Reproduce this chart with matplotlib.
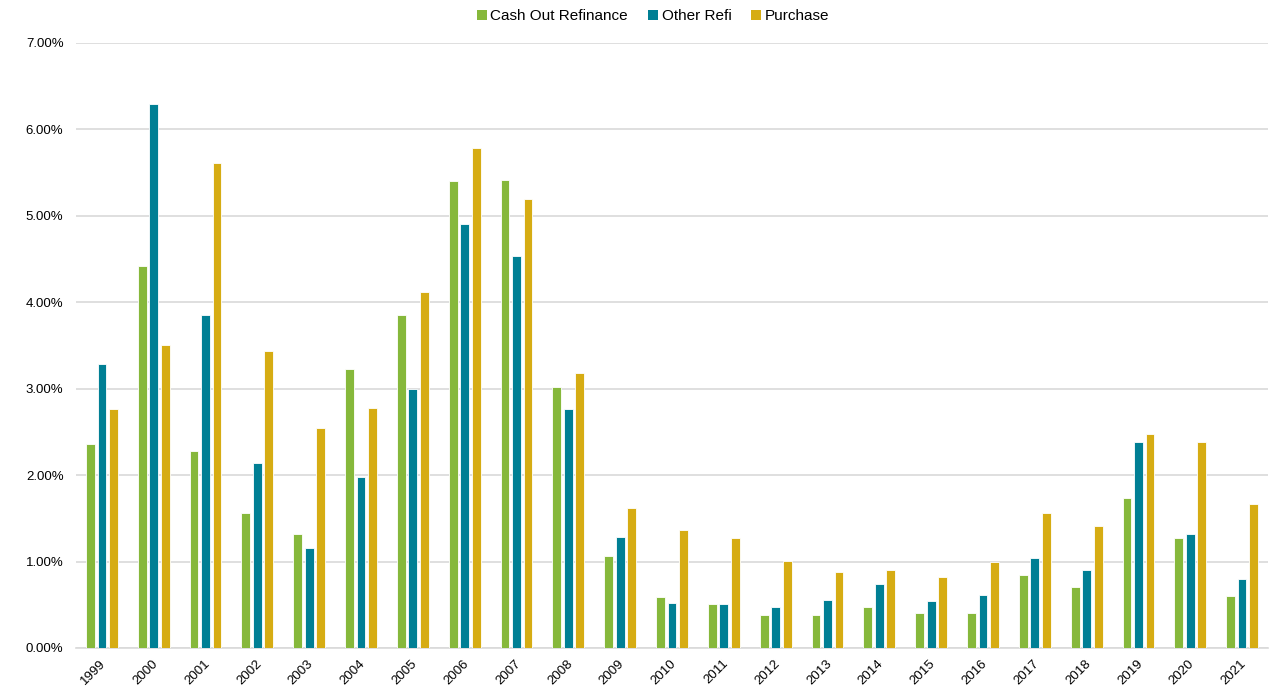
import matplotlib
matplotlib.use("Agg")
import matplotlib.pyplot as plt
import matplotlib.transforms as mtransforms
import numpy as np
from matplotlib.ticker import PercentFormatter, MultipleLocator
from matplotlib.patches import Patch

years = [str(y) for y in range(1999, 2022)]

cash_out_refinance = [2.36, 4.42, 2.28, 1.56, 1.32, 3.23, 3.85, 5.40, 5.42, 3.02,
                      1.06, 0.59, 0.51, 0.385, 0.385, 0.48, 0.41, 0.41, 0.84, 0.71,
                      1.73, 1.27, 0.60]
other_refi = [3.29, 6.29, 3.85, 2.14, 1.16, 1.98, 3.00, 4.91, 4.54, 2.76,
              1.28, 0.52, 0.51, 0.48, 0.56, 0.74, 0.54, 0.61, 1.04, 0.90,
              2.38, 1.32, 0.80]
purchase = [2.76, 3.51, 5.61, 3.44, 2.54, 2.78, 4.12, 5.78, 5.19, 3.18,
            1.62, 1.36, 1.27, 1.01, 0.88, 0.90, 0.82, 0.99, 1.56, 1.41,
            2.48, 2.38, 1.67]

series = [
    ("Cash Out Refinance", cash_out_refinance, "#86B83B"),
    ("Other Refi", other_refi, "#007F94"),
    ("Purchase", purchase, "#D6AC13"),
]

plt.rcParams["font.family"] = ["Liberation Sans", "DejaVu Sans"]

fig = plt.figure(figsize=(12.72, 6.87), dpi=100)
ax = fig.add_axes([76 / 1272, 39 / 687, 1192 / 1272, 605 / 687])

x = np.arange(len(years))
step = 0.222
width = 0.17
for i, (name, vals, color) in enumerate(series):
    ax.bar(x + (i - 1) * step, np.array(vals) / 100, width=width, color=color,
           edgecolor="white", linewidth=0.6, label=name, zorder=3)

ax.set_xlim(-0.5, len(years) - 0.5)
ax.set_ylim(0, 0.07)
ax.yaxis.set_major_locator(MultipleLocator(0.01))
ax.yaxis.set_major_formatter(PercentFormatter(1.0, decimals=2))
ax.grid(axis="y", color="#D9D9D9", linewidth=1.2, zorder=0)
ax.set_axisbelow(True)

for side in ["top", "right", "left"]:
    ax.spines[side].set_visible(False)
ax.spines["bottom"].set_color("#D9D9D9")
ax.spines["bottom"].set_linewidth(1.2)

ax.set_xticks(x)
ax.set_xticklabels(years, rotation=45, ha="right", rotation_mode="anchor")
ax.tick_params(axis="x", length=0, pad=7, labelsize=9.5, labelcolor="#000000")
ax.tick_params(axis="y", length=0, pad=9, labelsize=9.5, labelcolor="#000000")
shift = mtransforms.ScaledTranslation(-2 / 100, 0, fig.dpi_scale_trans)
for lbl in ax.get_xticklabels():
    lbl.set_transform(lbl.get_transform() + shift)

handles = [Patch(facecolor=c, edgecolor="none", label=n) for n, _, c in series]
fig.legend(handles=handles, loc="center", bbox_to_anchor=(653 / 1272, 1 - 16 / 687),
           ncol=3, frameon=False, fontsize=11, handlelength=0.65, handleheight=0.65,
           handletextpad=0.25, columnspacing=1.3)

fig.savefig("out.png", dpi=100, facecolor="white")
